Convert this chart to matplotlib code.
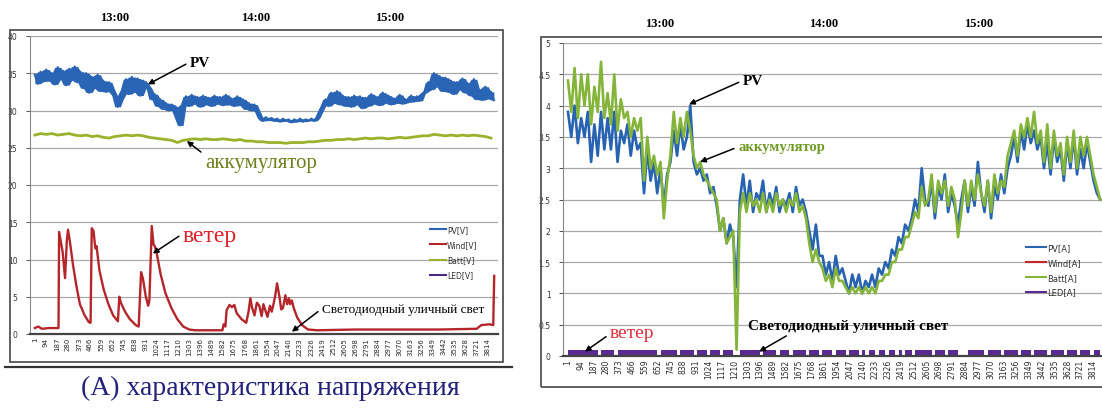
import matplotlib.pyplot as plt
from matplotlib.patches import Rectangle
from matplotlib.lines import Line2D
from matplotlib.ticker import FuncFormatter
import numpy as np
import pandas as pd

# ---- voltage log (V), one sample kept every 24 records ----
pv_v = [34.8, 33.6, 35.2, 33.9, 35.5, 34.0, 35.0, 33.5, 35.8, 34.2, 35.3, 33.4, 35.6, 34.1, 35.9, 33.8, 35.2,
        33.0, 35.0, 32.4, 34.5, 33.0, 34.8, 32.6,
        34.0, 32.5, 33.8, 32.8,
        32.0, 30.5, 31.5, 32.8,
        34.2, 32.2, 34.5, 32.5, 34.3, 32.0, 34.0, 33.5,
        33.0, 31.5, 32.2, 30.6, 31.5, 30.2, 31.0, 30.0, 30.8,
        30.5, 29.0, 28.0,
        30.8, 31.9, 30.6, 32.1, 30.9, 31.8, 30.5, 32.0, 30.8, 31.7, 30.6, 32.0, 30.9, 31.8, 30.7, 32.1,
        30.8, 31.6, 30.6, 31.9, 30.7, 31.5,
        30.2, 31.0, 30.0, 30.8, 29.9,
        29.0, 28.6, 29.1, 28.7, 29.0, 28.6, 28.9, 28.5, 28.9, 28.6, 28.8, 28.4, 28.8, 28.5, 28.9, 28.5,
        28.8, 28.6, 28.9, 28.6, 29.0,
        29.8, 30.6,
        31.5, 30.6, 32.4, 31.0, 32.6, 30.8, 32.0, 30.6, 31.8, 30.5, 32.0, 30.8, 31.9, 30.3, 31.7, 30.6,
        32.2, 30.9, 31.8, 30.7, 32.4, 31.0, 32.0, 30.8, 31.6, 31.0, 32.1, 30.9, 31.5, 31.1, 32.0, 31.2,
        31.9, 31.3, 32.3,
        32.5, 33.8, 32.8, 35.0, 33.2, 34.6,
        32.6, 34.4, 32.5, 34.0, 32.2, 33.8, 32.8, 34.3, 32.4, 33.6, 32.0, 34.2, 31.5, 32.8, 31.4, 33.2,
        31.6, 32.5, 31.4]

# battery voltage, one sample every 48 records
batt_v = [26.7, 26.9, 26.8, 26.9, 26.7, 26.8, 26.9, 26.7, 26.6,
          26.7, 26.5, 26.6, 26.4, 26.3, 26.5, 26.6, 26.7,
          26.6, 26.7, 26.6, 26.4, 26.3, 26.2, 26.1, 26.0, 25.7, 26.0,
          26.1, 26.2, 26.1, 26.2, 26.1, 26.1, 26.2, 26.1, 26.0, 26.1,
          25.9, 25.9, 25.8, 25.8, 25.7, 25.7, 25.7, 25.6, 25.7, 25.7, 25.7, 25.8, 25.8, 25.9,
          26.0, 26.0, 26.1, 26.1, 26.2, 26.1, 26.2, 26.3, 26.2, 26.3, 26.3, 26.2, 26.3, 26.4, 26.3, 26.4,
          26.5, 26.6, 26.6, 26.8, 26.7, 26.6, 26.7, 26.6, 26.7, 26.6, 26.7, 26.6, 26.5, 26.3]

# wind generator voltage, turning points
wind_v_idx = [1, 30, 60, 120, 200, 205, 235, 255, 270, 280, 295, 320, 350, 380, 420, 455, 470,
              480, 495, 510, 520, 545, 580, 620, 660, 700, 712, 725, 760, 800, 850, 875,
              895, 910, 935, 955, 965, 985, 1000, 1010, 1025, 1060, 1100, 1150, 1200, 1250, 1300,
              1350, 1580, 1590, 1605, 1615, 1640, 1660, 1680, 1700, 1740, 1780, 1800, 1815, 1830,
              1850, 1870, 1890, 1910, 1925, 1945, 1960, 1980, 1995, 2010, 2025, 2040, 2060, 2075,
              2090, 2110, 2125, 2140, 2150, 2165, 2180, 2210, 2250, 2300, 2380, 2700, 3000, 3400,
              3720, 3760, 3830, 3860, 3868]
wind_v = [0.8, 1.0, 0.7, 0.8, 0.8, 13.7, 11.0, 7.5, 12.5, 14.0, 12.5, 9.5, 6.5, 4.0, 2.5, 1.6, 1.5,
          14.2, 13.8, 11.5, 11.8, 8.5, 6.0, 4.0, 2.5, 1.7, 5.0, 4.2, 3.0, 2.0, 1.2, 1.0,
          8.3, 7.5, 5.0, 3.8, 4.5, 14.5, 12.0, 11.8, 11.0, 8.0, 5.5, 3.5, 2.0, 1.0, 0.6,
          0.5, 0.5, 1.3, 1.0, 3.2, 3.9, 3.6, 3.9, 2.8, 2.0, 1.5, 3.0, 4.8, 3.5,
          2.5, 4.2, 3.8, 2.4, 4.0, 3.0, 2.3, 3.8, 3.0, 4.0, 5.2, 6.8, 5.0, 3.3,
          3.5, 5.2, 4.0, 4.8, 4.0, 4.5, 3.5, 2.2, 1.2, 0.6, 0.5, 0.6, 0.6, 0.6,
          0.7, 1.2, 1.3, 1.2, 7.8]

led_v_idx = [1, 3868]
led_v = [0.0, 0.0]

# ---- current log (A), one sample kept every 24 records ----
pv_a = [3.9, 3.5, 4.0, 3.4, 3.8, 3.5,
        3.9, 3.1, 3.7, 3.2, 3.9, 3.3,
        3.8, 3.3, 3.9, 3.1, 3.6, 3.4,
        3.7, 3.2, 3.6, 3.3,
        3.4, 2.6, 3.3, 2.8, 3.1,
        2.6, 3.0, 2.4, 2.9, 3.1,
        3.6, 3.2, 3.7, 3.3, 3.5, 4.0,
        3.1, 2.9, 3.0, 2.8, 2.9, 2.6, 2.7,
        2.4, 2.0, 2.2, 1.8, 2.1,
        1.9, 1.1, 2.5, 2.9,
        2.4, 2.8, 2.3, 2.6, 2.5, 2.8, 2.3, 2.6, 2.4, 2.7, 2.3, 2.5, 2.4, 2.6, 2.3, 2.7, 2.4, 2.5, 2.3,
        2.0, 1.7, 2.1, 1.6,
        1.6, 1.3, 1.5, 1.2, 1.6, 1.3, 1.4,
        1.2, 1.0, 1.3, 1.1, 1.3, 1.0, 1.2, 1.1, 1.3, 1.1, 1.4,
        1.3, 1.5, 1.4, 1.7, 1.6, 1.9, 1.8, 2.1, 2.0, 2.2,
        2.5, 2.3, 3.0, 2.5,
        2.4, 2.8, 2.2, 2.7, 2.5, 2.9, 2.3, 2.6, 2.4, 2.1, 2.5, 2.8, 2.3, 2.7, 2.4, 3.1, 2.6,
        2.3, 2.8, 2.2, 2.7, 2.5, 2.9, 2.6, 3.0,
        3.2, 3.5, 3.1, 3.6, 3.3, 3.7, 3.4, 3.6, 3.3,
        3.5, 3.0, 3.4, 2.9, 3.5, 3.1, 3.3, 2.8, 3.4, 3.0, 3.5, 2.9, 3.3, 3.0, 3.4, 3.1,
        2.8, 2.6, 2.5]

batt_a = [4.4, 3.9, 4.6, 3.8, 4.5, 4.0,
          4.5, 3.7, 4.3, 3.9, 4.7, 3.8,
          4.2, 3.7, 4.5, 3.6, 4.1, 3.8,
          3.9, 3.5, 3.8, 3.6,
          3.8, 2.8, 3.5, 3.0, 3.2,
          2.9, 3.1, 2.2, 2.8, 3.2,
          3.9, 3.4, 3.8, 3.5, 3.9, 3.6,
          3.2, 3.0, 3.1, 2.9, 2.8, 2.7, 2.6,
          2.5, 2.0, 2.2, 1.8, 1.9,
          2.0, 0.1, 2.3, 2.6,
          2.3, 2.6, 2.4, 2.5, 2.3, 2.6, 2.3, 2.5, 2.3, 2.6, 2.4, 2.5, 2.3, 2.5, 2.4, 2.6, 2.3, 2.4, 2.2,
          1.8, 1.5, 1.7, 1.5,
          1.4, 1.2, 1.3, 1.1, 1.4, 1.2, 1.2,
          1.1, 1.0, 1.1, 1.0, 1.1, 1.0, 1.1, 1.0, 1.1, 1.0, 1.2,
          1.2, 1.3, 1.3, 1.5, 1.5, 1.7, 1.7, 1.9, 1.9, 2.1,
          2.3, 2.2, 2.7, 2.4,
          2.5, 2.9, 2.3, 2.8, 2.6, 2.8, 2.4, 2.7, 2.5, 1.9, 2.3, 2.8, 2.4, 2.8, 2.5, 2.9, 2.6,
          2.4, 2.8, 2.3, 2.9, 2.6, 2.8, 2.7, 3.2,
          3.4, 3.6, 3.2, 3.7, 3.5, 3.8, 3.5, 3.9, 3.4,
          3.6, 3.1, 3.7, 3.0, 3.6, 3.2, 3.4, 2.9, 3.5, 3.1, 3.6, 3.0, 3.5, 3.2, 3.5, 3.2,
          2.9, 2.7, 2.5]

led_a = [.1, .1, .1, .1, .1, .1, .1, .1, .1, 0, .1, .1, .1, .1, 0, .1, .1, .1,
         .1, .1, .1, .1, .1, .1, .1, .1, .1, 0, .1, .1, .1, .1, .1, 0, .1, .1,
         .1, .1, 0, .1, .1, .1, 0, .1, .1, .1, 0, .1, .1, .1, 0, 0, .1, .1,
         .1, .1, .1, .1, 0, .1, .1, .1, .1, 0, .1, .1, .1, 0, .1, .1, .1, .1,
         0, .1, .1, .1, 0, .1, .1, .1, 0, .1, .1, .1, 0, .1, .1, .1, 0, .1,
         0, .1, .1, 0, .1, .1, 0, .1, .1, 0, .1, 0, .1, .1, 0, .1, .1, .1,
         .1, .1, 0, .1, .1, .1, 0, .1, .1, .1, 0, 0, 0, .1, .1, .1, .1, .1,
         0, .1, .1, .1, .1, 0, .1, .1, .1, .1, 0, .1, .1, .1, 0, .1, .1, .1,
         .1, 0, .1, .1, .1, .1, 0, .1, .1, .1, 0, .1, .1, .1, 0, .1, .1, .1]

wind_a_idx = [1, 3868]
wind_a = [0.0, 0.0]

cat_ticks = [1, 94, 187, 280, 373, 466, 559, 652, 745, 838, 931, 1024, 1117, 1210, 1303, 1396,
             1489, 1582, 1675, 1768, 1861, 1954, 2047, 2140, 2233, 2326, 2419, 2512, 2605, 2698,
             2791, 2884, 2977, 3070, 3163, 3256, 3349, 3442, 3535, 3628, 3721, 3814]
hour_labels = ['13:00', '14:00', '15:00']
hour_pos = [670, 1860, 2985]

SERIF = 'Liberation Serif'
W, H = 1102, 410


def fx(px):
    return px / W


def fy(py):
    return 1 - py / H


def noisy(ax, x, v, color, lw):
    # the samples flicker faster than a pixel, so shade between neighbours as well
    s = pd.Series(v)
    lo = s.rolling(3, center=True, min_periods=1).min()
    hi = s.rolling(3, center=True, min_periods=1).max()
    ax.fill_between(x, lo, hi, color=color, lw=0, zorder=3)
    ax.plot(x, v, color=color, lw=lw, zorder=3)


fig = plt.figure(figsize=(W / 100, H / 100), dpi=100)
fig.patch.set_facecolor('white')


def setup_axes(ax, ymax, ystep, xlim, tick_fs, hour_off):
    ax.set_xlim(*xlim)
    ax.set_ylim(0, ymax)
    ax.set_yticks(np.arange(0, ymax + ystep / 2, ystep))
    ax.yaxis.set_major_formatter(FuncFormatter(lambda v, p: '%g' % v))
    ax.grid(axis='y', color='#a8a8a8', lw=0.9)
    ax.set_axisbelow(True)
    ax.set_xticks(cat_ticks)
    ax.set_xticklabels([str(t) for t in cat_ticks], rotation=90, fontsize=tick_fs, color='#2a2a2a')
    ax.tick_params(axis='x', length=0, pad=2)
    ax.tick_params(axis='y', length=3, pad=6, labelsize=5.5, colors='#333333', width=0.6)
    for s in ('top', 'right'):
        ax.spines[s].set_visible(False)
    ax.spines['left'].set_color('#888888')
    ax.spines['left'].set_linewidth(0.8)
    ax.spines['bottom'].set_color('#444444')
    ax.spines['bottom'].set_linewidth(1.6)
    ax.spines['bottom'].set_zorder(4)
    ax.patch.set_alpha(0)
    for lab, pos in zip(hour_labels, hour_pos):
        ax.annotate(lab, xy=(pos, 1), xycoords=('data', 'axes fraction'),
                    xytext=(0, hour_off), textcoords='offset points',
                    ha='center', va='center', fontsize=9, fontweight='bold', family=SERIF)


def note(ax, text, xy, xytext, color='black', size=10, weight='normal', relpos=(0, 0.5)):
    ax.annotate(text, xy=xy, xytext=xytext, ha='left', va='center', color=color,
                fontsize=size, fontweight=weight, family=SERIF, zorder=6,
                arrowprops=dict(arrowstyle='-|>', color='black', lw=1.1, mutation_scale=8,
                                shrinkA=1, shrinkB=0, relpos=relpos))


# chart borders
fig.add_artist(Rectangle((fx(10), fy(363)), fx(503) - fx(10), fy(31) - fy(363), fill=False,
                         ec='#555555', lw=1.3, transform=fig.transFigure))
fig.add_artist(Line2D([fx(5), fx(512)], [fy(368), fy(368)], color='#333333', lw=1.6,
                      transform=fig.transFigure))
fig.add_artist(Rectangle((fx(541), fy(388)), fx(1120) - fx(541), fy(38) - fy(388), fill=False,
                         ec='#555555', lw=1.3, transform=fig.transFigure))

# ---- voltage chart ----
axL = fig.add_axes([fx(30), fy(335), fx(498) - fx(30), fy(37) - fy(335)])
setup_axes(axL, 40, 5, (-40, 3900), 5, 13.5)
x_pv_v = 1 + 24 * np.arange(len(pv_v))
x_batt_v = 1 + 48 * np.arange(len(batt_v))
c_pv, c_wind, c_batt, c_led = '#2a64b4', '#b5262b', '#98b22c', '#4b2a83'
noisy(axL, x_pv_v, pv_v, c_pv, 1.6)
axL.plot(wind_v_idx, wind_v, color=c_wind, lw=1.7, zorder=3)
axL.plot(x_batt_v, batt_v, color=c_batt, lw=2.0, zorder=3)
axL.plot(led_v_idx, led_v, color=c_led, lw=1.0, zorder=2)
handles = [Line2D([], [], color=c, lw=1.5) for c in (c_pv, c_wind, c_batt, c_led)]
fig.legend(handles, ['PV[V]', 'Wind[V]', 'Batt[V]', 'LED[V]'], loc='upper left',
           bbox_to_anchor=(fx(430), fy(226)), bbox_transform=fig.transFigure, frameon=False,
           fontsize=5.5, handlelength=2.1, handletextpad=0.15, labelspacing=0.8,
           borderpad=0, borderaxespad=0, labelcolor='#333333')

note(axL, 'PV', (952, 33.5), (1306, 36.5), size=11, weight='bold')
note(axL, 'аккумулятор', (1280, 25.9), (1432, 23.0), color='#6f7f1c', size=15, relpos=(0, 0.9))
note(axL, 'ветер', (994, 10.8), (1247, 13.2), color='#e0202a', size=17, relpos=(0, 0.6))
note(axL, 'Светодиодный уличный свет', (2164, 0.3), (2417, 3.4), size=9.5)

fig.text(fx(270), fy(388), '(A) характеристика напряжения', ha='center', va='center',
         fontsize=20, family=SERIF, color='#22227a')

# ---- current chart ----
axR = fig.add_axes([fx(563), fy(357), fx(1105) - fx(563), fy(44) - fy(357)])
setup_axes(axR, 5, 0.5, (-35, 3900), 5.5, 14.5)
x_a = 1 + 24 * np.arange(len(pv_a))
c_pv, c_wind, c_batt, c_led = '#2763b0', '#c0282d', '#84b53a', '#5a2a90'
axR.plot(x_a, pv_a, color=c_pv, lw=1.9, zorder=3)
axR.plot(wind_a_idx, wind_a, color=c_wind, lw=1.0, zorder=2)
axR.plot(x_a, batt_a, color=c_batt, lw=1.9, zorder=3)
axR.fill_between(x_a, 0, led_a, step='post', color=c_led, lw=0, zorder=3)
handles = [Line2D([], [], color=c, lw=1.5) for c in (c_pv, c_wind, c_batt, c_led)]
fig.legend(handles, ['PV[A]', 'Wind[A]', 'Batt[A]', 'LED[A]'], loc='upper left',
           bbox_to_anchor=(fx(1026), fy(244)), bbox_transform=fig.transFigure, frameon=False,
           fontsize=6, handlelength=2.4, handletextpad=0.15, labelspacing=0.7,
           borderpad=0, borderaxespad=0, labelcolor='#333333')

note(axR, 'PV', (880, 4.02), (1270, 4.4), size=11, weight='bold')
note(axR, 'аккумулятор', (960, 3.1), (1236, 3.34), color='#6f9a22', size=10.5, weight='bold')
note(axR, 'ветер', (124, 0.07), (306, 0.38), color='#e0303a', size=14, relpos=(0, 0.4))
note(axR, 'Светодиодный уличный свет', (1389, 0.07), (1310, 0.48), size=11, weight='bold',
     relpos=(0.22, 0))

fig.savefig('out.png', dpi=100)
